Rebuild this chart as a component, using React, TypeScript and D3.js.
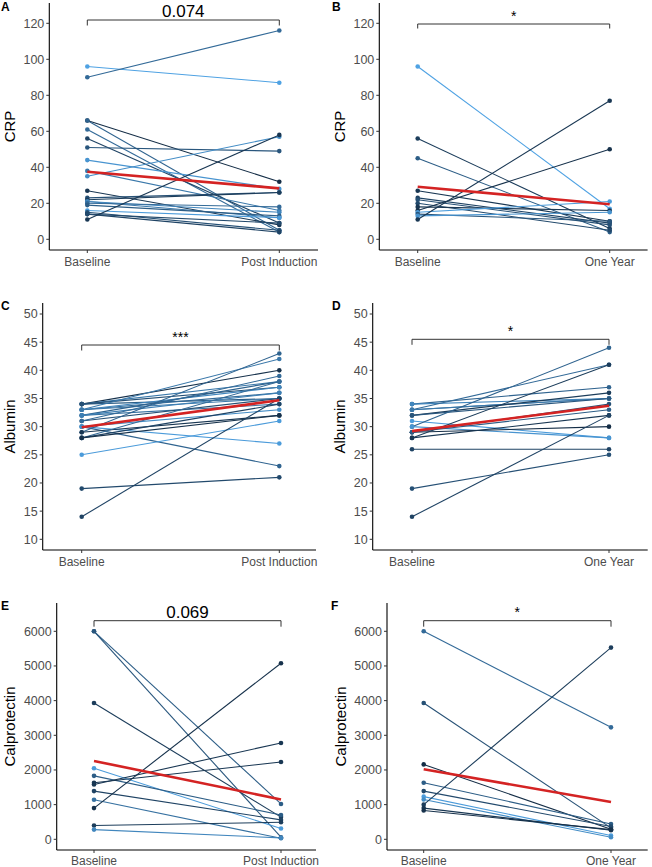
import React from "react";
import * as d3 from "d3";

// ---------- categories ----------
const catsInduction = ["Baseline", "Post Induction"];
const catsYear = ["Baseline", "One Year"];

// ---------- A: CRP, baseline -> post induction ----------
const crpIndBase = [96, 90, 66, 66, 61, 56, 51, 44, 38, 35, 27, 23, 22, 21, 21, 20, 19, 16, 15, 14, 14, 11];
const crpIndPost = [87, 116, 32, 5, 4, 9, 49, 28, 16, 57, 8, 26, 26, 12, 15, 18, 13, 12, 5, 4, 9, 58];
const crpIndShade = [0.9, 0.5, 0.02, 0.45, 0.5, 0.2, 0.35, 0.8, 0.6, 0.75, 0.1, 0.3, 0.15, 0.6, 0.7, 0.5, 0.4, 0.85, 0.3, 0.2, 0.25, 0.1];
const crpIndMean = [37.5, 28.3];

// ---------- B: CRP, baseline -> one year ----------
const crpYearBase = [96, 56, 45, 27, 23, 22, 20, 18, 16, 15, 14, 13, 11];
const crpYearPost = [17, 6, 4, 10, 9, 8, 5, 16, 50, 21, 10, 15, 77];
const crpYearShade = [0.9, 0.15, 0.4, 0.1, 0.2, 0.3, 0.25, 0.1, 0.05, 0.85, 0.35, 0.8, 0.1];
const crpYearMean = [29.2, 19.5];

// ---------- C: Albumin, baseline -> post induction ----------
const albIndBase = [34, 34, 34, 34, 33, 33, 33, 33, 32, 32, 32, 31, 31, 30, 30, 30, 29, 29, 28, 28, 28, 25, 19, 14];
const albIndPost = [40, 38, 35, 37, 42, 36, 37, 35, 38, 34, 36, 35, 39, 23, 27, 33, 43, 32, 38, 34, 32, 31, 21, 35];
const albIndShade = [0.05, 0.6, 0.4, 0.3, 0.6, 0.5, 0.7, 0.6, 0.45, 0.55, 0.65, 0.3, 0.5, 0.45, 0.85, 0.75, 0.45, 0.1, 0.5, 0.2, 0.05, 0.85, 0.25, 0.2];
const albIndMean = [29.9, 34.7];

// ---------- D: Albumin, baseline -> one year ----------
const albYearBase = [34, 34, 33, 33, 33, 32, 32, 31, 30, 30, 29, 29, 29, 28, 28, 26, 19, 14];
const albYearPost = [37, 35, 41, 35, 35, 36, 35, 28, 44, 28, 30, 34, 33, 41, 32, 26, 25, 32];
const albYearShade = [0.45, 0.7, 0.5, 0.55, 0.6, 0.15, 0.35, 0.85, 0.45, 0.8, 0.02, 0.3, 0.4, 0.15, 0.1, 0.2, 0.3, 0.2];
const albYearMean = [29.2, 33.7];

// ---------- E: Calprotectin, baseline -> post induction ----------
const calIndBase = [6000, 6000, 3930, 2050, 1830, 1630, 1580, 1390, 1140, 900, 400, 280];
const calIndPost = [1020, 60, 640, 310, 700, 2230, 2780, 560, 30, 5080, 490, 40];
const calIndShade = [0.4, 0.35, 0.15, 0.85, 0.4, 0.1, 0.1, 0.2, 0.55, 0.05, 0.15, 0.7];
const calIndMean = [2260, 1150];

// ---------- F: Calprotectin, baseline -> one year ----------
const calYearBase = [6000, 3930, 2160, 1630, 1390, 1230, 1150, 1000, 900, 830];
const calYearPost = [3230, 330, 290, 440, 370, 110, 60, 5530, 260, 280];
const calYearShade = [0.5, 0.3, 0.02, 0.4, 0.25, 0.85, 0.75, 0.15, 0.1, 0.05];
const calYearMean = [2020, 1075];

// ---------- axis ticks & labels ----------
const crpTicks = [0, 20, 40, 60, 80, 100, 120];
const albTicks = [10, 15, 20, 25, 30, 35, 40, 45, 50];
const calTicks = [0, 1000, 2000, 3000, 4000, 5000, 6000];
const pLabels = ["0.074", "*", "***", "*", "0.069", "*"];
const panelLetters = ["A", "B", "C", "D", "E", "F"];
const yTitles = ["CRP", "CRP", "Albumin", "Albumin", "Calprotectin", "Calprotectin"];

const colorScale = d3.interpolateLab("#132B43", "#56B1F7");
const FONT = "'Liberation Sans', Arial, Helvetica, sans-serif";

type Layout = {
  axisX: number; x1: number; x2: number; right: number;
  top: number; bottom: number;
  dom: [number, number]; rng: [number, number];
  bracketY: number; bracketTick: number; labelY: number; pBig: boolean;
  titleX: number; letterX: number; letterY: number; catY: number;
};

const layouts: Layout[] = [
  { axisX: 49.3, x1: 87.3, x2: 279.3, right: 318, top: 3, bottom: 250, dom: [0, 120], rng: [239.3, 23.3], bracketY: 20, bracketTick: 5.5, labelY: 16.5, pBig: true, titleX: 15, letterX: 1, letterY: 11, catY: 266 },
  { axisX: 379.3, x1: 417.7, x2: 609.7, right: 647.6, top: 3, bottom: 250, dom: [0, 120], rng: [239.3, 23.3], bracketY: 24, bracketTick: 4.5, labelY: 21, pBig: false, titleX: 345, letterX: 332, letterY: 11, catY: 266 },
  { axisX: 42.7, x1: 81.7, x2: 279.3, right: 316, top: 303, bottom: 550, dom: [10, 50], rng: [539.3, 314], bracketY: 345, bracketTick: 5.5, labelY: 341.5, pBig: false, titleX: 15, letterX: 1, letterY: 310, catY: 566 },
  { axisX: 372.7, x1: 412, x2: 609, right: 647.7, top: 303, bottom: 550, dom: [10, 50], rng: [539.3, 314], bracketY: 339.3, bracketTick: 5.5, labelY: 335.5, pBig: false, titleX: 345, letterX: 332, letterY: 310, catY: 566 },
  { axisX: 56.7, x1: 94, x2: 281, right: 316, top: 603, bottom: 850, dom: [0, 6000], rng: [839.3, 631.3], bracketY: 620.7, bracketTick: 6, labelY: 617.5, pBig: true, titleX: 15, letterX: 1, letterY: 610, catY: 864.5 },
  { axisX: 387, x1: 423.7, x2: 611, right: 647.7, top: 603, bottom: 850, dom: [0, 6000], rng: [839.3, 631.3], bracketY: 620.7, bracketTick: 6, labelY: 616.5, pBig: false, titleX: 346, letterX: 331, letterY: 610, catY: 864.5 },
];

const panelData = [
  { cats: catsInduction, base: crpIndBase, post: crpIndPost, shade: crpIndShade, mean: crpIndMean, ticks: crpTicks },
  { cats: catsYear, base: crpYearBase, post: crpYearPost, shade: crpYearShade, mean: crpYearMean, ticks: crpTicks },
  { cats: catsInduction, base: albIndBase, post: albIndPost, shade: albIndShade, mean: albIndMean, ticks: albTicks },
  { cats: catsYear, base: albYearBase, post: albYearPost, shade: albYearShade, mean: albYearMean, ticks: albTicks },
  { cats: catsInduction, base: calIndBase, post: calIndPost, shade: calIndShade, mean: calIndMean, ticks: calTicks },
  { cats: catsYear, base: calYearBase, post: calYearPost, shade: calYearShade, mean: calYearMean, ticks: calTicks },
];

function Panel({ idx }: { idx: number }) {
  const L = layouts[idx];
  const D = panelData[idx];
  const y = d3.scaleLinear().domain(L.dom).range(L.rng);
  const x = d3.scalePoint<string>().domain(D.cats).range([L.x1, L.x2]);
  const line = d3.line<[number, number]>().x((d) => d[0]).y((d) => d[1]);
  const xa = x(D.cats[0]) as number;
  const xb = x(D.cats[1]) as number;
  const midY = (L.top + L.bottom) / 2;
  return (
    <g>
      {/* patient lines */}
      {D.base.map((b, i) => (
        <path key={"l" + i} d={line([[xa, y(b)], [xb, y(D.post[i])]]) as string}
          stroke={colorScale(D.shade[i])} strokeWidth={1.1} fill="none" />
      ))}
      {D.base.map((b, i) => (
        <g key={"p" + i} fill={colorScale(D.shade[i])}>
          <circle cx={xa} cy={y(b)} r={2.3} />
          <circle cx={xb} cy={y(D.post[i])} r={2.3} />
        </g>
      ))}
      {/* mean line */}
      <path d={line([[xa, y(D.mean[0])], [xb, y(D.mean[1])]]) as string} stroke="#d42323" strokeWidth={2.6} fill="none" />
      {/* axes */}
      <line x1={L.axisX} x2={L.axisX} y1={L.top} y2={L.bottom} stroke="#000" strokeWidth={1.1} />
      <line x1={L.axisX} x2={L.right} y1={L.bottom} y2={L.bottom} stroke="#000" strokeWidth={1.1} />
      {D.ticks.map((t) => (
        <g key={"t" + t}>
          <line x1={L.axisX - 3} x2={L.axisX} y1={y(t)} y2={y(t)} stroke="#333" strokeWidth={1} />
          <text x={L.axisX - 5} y={y(t)} dy="0.35em" textAnchor="end" fontSize={12.5} fill="#4D4D4D" fontFamily={FONT}>{t}</text>
        </g>
      ))}
      {D.cats.map((c) => (
        <g key={"c" + c}>
          <line x1={x(c) as number} x2={x(c) as number} y1={L.bottom} y2={L.bottom + 3} stroke="#333" strokeWidth={1} />
          <text x={x(c) as number} y={L.catY} textAnchor="middle" fontSize={12} fill="#4D4D4D" fontFamily={FONT}>{c}</text>
        </g>
      ))}
      {/* y title */}
      <text transform={`translate(${L.titleX},${midY}) rotate(-90)`} textAnchor="middle" fontSize={15} fill="#000" fontFamily={FONT}>{yTitles[idx]}</text>
      {/* bracket */}
      <path d={`M${xa},${L.bracketY + L.bracketTick}V${L.bracketY}H${xb}V${L.bracketY + L.bracketTick}`} stroke="#333" strokeWidth={1} fill="none" />
      <text x={(xa + xb) / 2} y={L.labelY} textAnchor="middle" fontSize={L.pBig ? 17 : 14} fill="#000" fontFamily={FONT}>{pLabels[idx]}</text>
      {/* panel letter */}
      <text x={L.letterX} y={L.letterY} fontSize={12} fontWeight="bold" fill="#000" fontFamily={FONT}>{panelLetters[idx]}</text>
    </g>
  );
}

export default function App() {
  return (
    <div style={{ position: "absolute", left: 0, top: 0, width: 652, height: 867, background: "#fff" }}>
      <svg width={652} height={867} viewBox="0 0 652 867">
        <rect width={652} height={867} fill="#fff" />
        {[0, 1, 2, 3, 4, 5].map((i) => <Panel key={i} idx={i} />)}
      </svg>
    </div>
  );
}
